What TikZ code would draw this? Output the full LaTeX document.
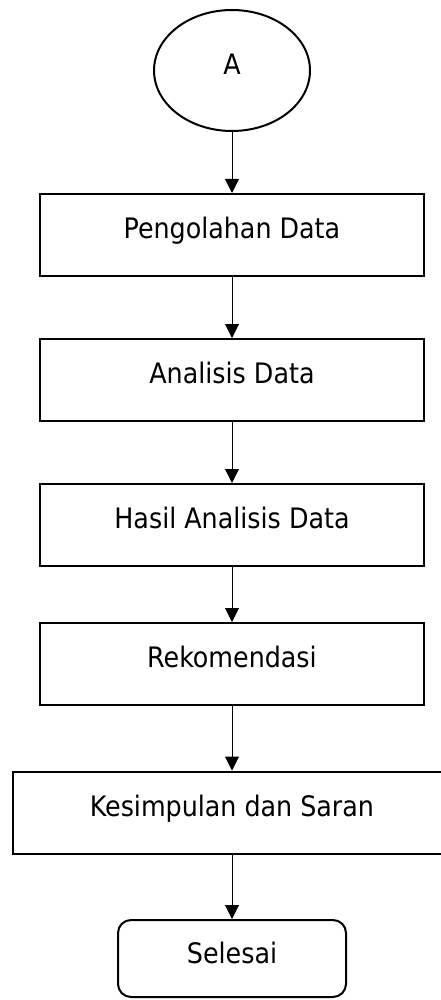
\documentclass[tikz,border=0pt]{standalone}
\usepackage{fontspec}
\setmainfont{DejaVu Sans Condensed}
\usetikzlibrary{arrows.meta,shapes.geometric}

\begin{document}
\begin{tikzpicture}[x=1pt,y=1pt,font=\fontsize{28.2}{34}\selectfont,
    langkah/.style={draw,line width=2pt,minimum width=384pt,minimum height=82pt,
      inner sep=0pt,text height=21pt,text depth=14pt},
    panah/.style={->,>={Triangle[length=14pt,width=14pt]},line width=1pt}]
  \clip (0,0) rectangle (441,-1000);
  \node[draw,ellipse,line width=2pt,minimum width=156pt,minimum height=121pt,
    inner sep=0pt,text height=21pt,text depth=13.4pt] (mulai) at (232,-70.5) {A};
  \node[langkah] (olah) at (232,-235) {Pengolahan Data};
  \node[langkah] (analisis) at (232,-380) {Analisis Data};
  \node[langkah] (hasil) at (232,-525) {Hasil Analisis Data};
  \node[langkah] (rekomendasi) at (232,-664) {Rekomendasi};
  \node[langkah,minimum width=438pt] (simpulan) at (232,-812.5) {Kesimpulan dan Saran};
  \node[draw,line width=2pt,rounded corners=13pt,minimum width=228pt,minimum height=77pt,
    inner sep=0pt,text height=21pt,text depth=10.4pt] (selesai) at (232,-958.5) {Selesai};
  \foreach \u/\v in {mulai/olah,olah/analisis,analisis/hasil,hasil/rekomendasi,
      rekomendasi/simpulan,simpulan/selesai}
    \draw[panah] (\u) -- (\v);
\end{tikzpicture}
\end{document}
